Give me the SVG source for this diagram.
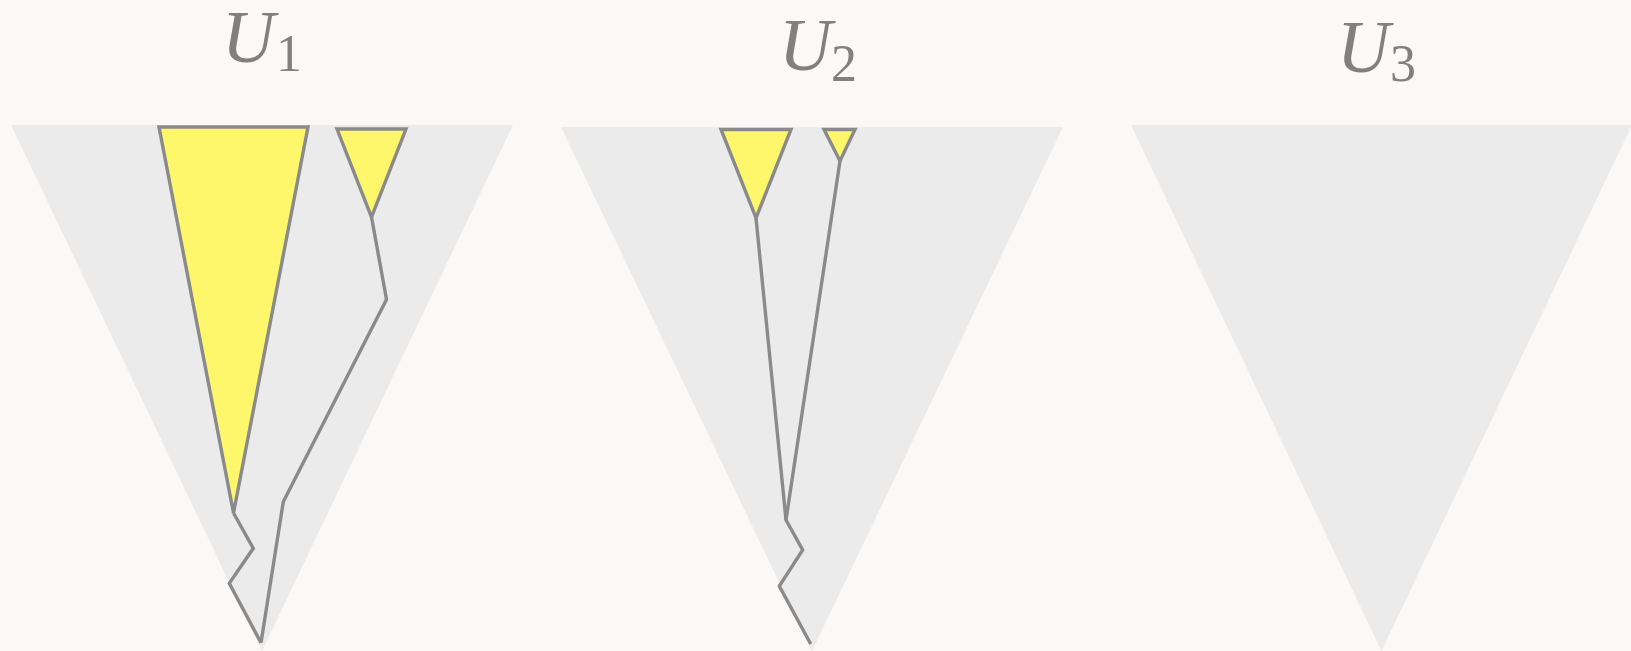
<svg xmlns="http://www.w3.org/2000/svg" width="1631" height="651" viewBox="0 0 1631 651">
<style>
.bg{fill:#faf9f8}
.tree{fill:#ebebeb;stroke:none}
.hl{fill:#fff76b;stroke:#8a8a8a;stroke-width:3.4;stroke-linejoin:miter}
.edge{fill:none;stroke:#8a8a8a;stroke-width:3.4;stroke-linejoin:miter}
.lab{font-family:"Liberation Serif","DejaVu Serif",serif;fill:#808080}
.U{font-style:italic;font-size:73px}
.sub{font-size:52px}
</style>
<rect class="bg" x="0" y="0" width="1631" height="651"/>
<g id="tree1">
<polygon class="tree" points="11,125 513,125 262,651"/>
</g>
<g id="tree2">
<polygon class="tree" points="561,127 1063,127 812,651"/>
</g>
<g id="tree3">
<polygon class="tree" points="1131,125 1632,125 1381.5,651"/>
</g>
<g id="t1-big">
<polygon class="hl" points="159,127 308,127 233.5,513"/>
</g>
<g id="t1-small">
<polygon class="hl" points="337,129 406,129 371.5,217"/>
</g>
<g id="t2-big">
<polygon class="hl" points="721,129.5 791,129.5 756,218"/>
</g>
<g id="t2-small">
<polygon class="hl" points="824,129.5 855,129.5 840,161"/>
</g>
<g id="connectors">
<path class="edge" d="M233.5,513 L253.3,548.3 L229.3,583.3 L261,642.7"/>
<path class="edge" d="M371.5,217 L386.5,299.5 L283.3,501.7 L261,642.7"/>
<path class="edge" d="M756,218 L786,520"/>
<path class="edge" d="M840,161 L786,520 L802.7,550 L779.3,586 L810.7,644"/>
</g>
<g id="label1" class="lab">
<text class="U" x="222" y="62">U</text>
<text class="sub" x="276" y="71">1</text>
</g>
<g id="label2" class="lab">
<text class="U" x="779" y="70">U</text>
<text class="sub" x="831" y="81">2</text>
</g>
<g id="label3" class="lab">
<text class="U" x="1337" y="72">U</text>
<text class="sub" x="1390" y="81">3</text>
</g>
</svg>
